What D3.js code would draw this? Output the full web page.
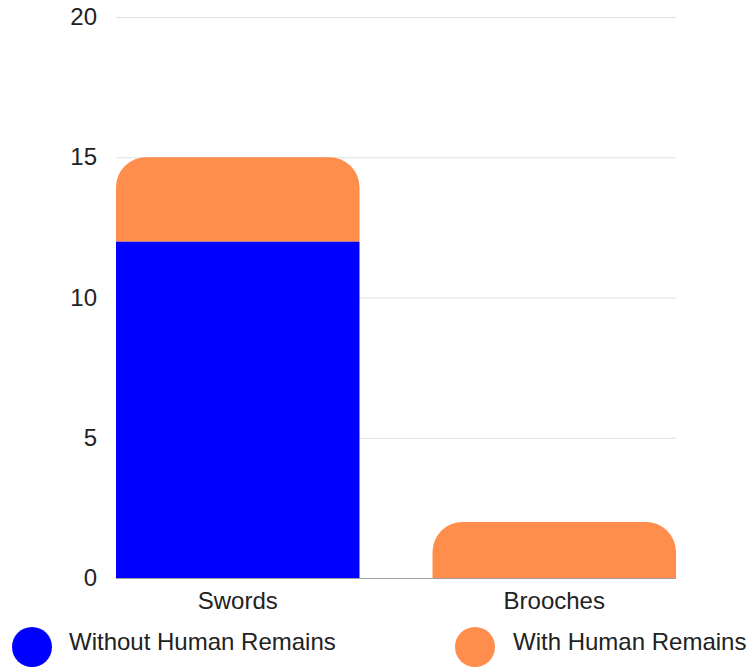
<!DOCTYPE html>
<html>
<head>
<meta charset="utf-8">
<script src="https://cdn.jsdelivr.net/npm/d3@7"></script>
<style>
  html, body { margin: 0; padding: 0; background: #fff; }
  svg { display: block; font-family: "Liberation Sans", Arial, sans-serif; }
</style>
</head>
<body>
<svg id="chart" width="755" height="672"></svg>
<script>
// Find counts per category, split by presence of human remains
const categories = ["Swords", "Brooches"];
const withoutRemains = [12, 0];
const withRemains = [3, 2];
const seriesNames = ["Without Human Remains", "With Human Remains"];
const seriesColors = ["#0000ff", "#ff8e4c"];
const yTicks = [0, 5, 10, 15, 20];

const svg = d3.select("#chart");
const plotLeft = 116, plotRight = 676, plotTop = 17, plotBottom = 578;

const rows = categories.map((c, i) => ({
  category: c,
  [seriesNames[0]]: withoutRemains[i],
  [seriesNames[1]]: withRemains[i]
}));

const x = d3.scaleBand().domain(categories).range([plotLeft, plotRight])
  .paddingInner(0.2307).paddingOuter(0);
const y = d3.scaleLinear().domain([0, 20]).range([plotBottom, plotTop]);
const color = d3.scaleOrdinal().domain(seriesNames).range(seriesColors);

// Gridlines
const grid = svg.append("g").attr("transform", `translate(${plotLeft},0)`)
  .call(d3.axisLeft(y).tickValues(yTicks.slice(1)).tickSize(-(plotRight - plotLeft)).tickFormat(""));
grid.select(".domain").remove();
grid.selectAll("line").attr("stroke", "#e0e0e0").attr("stroke-width", 1);

// Value axis labels
const yAxis = svg.append("g").attr("transform", `translate(${plotLeft},0)`)
  .call(d3.axisLeft(y).tickValues(yTicks).tickSize(0).tickPadding(19));
yAxis.select(".domain").remove();
yAxis.selectAll("text").attr("font-size", 24).attr("fill", "#222")
  .attr("font-family", "'Liberation Sans', Arial, sans-serif");

// Stacked bars; the top segment of each stack gets rounded upper corners
const stacked = d3.stack().keys(seriesNames)(rows);

function topRounded(x0, y0, w, h, r) {
  r = Math.min(r, w / 2, h);
  return `M${x0},${y0 + h}V${y0 + r}A${r},${r} 0 0 1 ${x0 + r},${y0}` +
    `H${x0 + w - r}A${r},${r} 0 0 1 ${x0 + w},${y0 + r}V${y0 + h}Z`;
}

stacked.forEach((layer, li) => {
  const g = svg.append("g").attr("fill", color(layer.key));
  layer.forEach((d, ci) => {
    const v = d[1] - d[0];
    if (v <= 0) return;
    const isTop = stacked.slice(li + 1).every(l => l[ci][1] - l[ci][0] <= 0);
    const x0 = x(d.data.category), w = x.bandwidth();
    const y0 = y(d[1]), h = y(d[0]) - y(d[1]);
    if (isTop) {
      g.append("path").attr("d", topRounded(x0, y0, w, h, 30));
    } else {
      g.append("rect").attr("x", x0).attr("y", y0).attr("width", w).attr("height", h);
    }
  });
});

// Baseline
svg.append("line").attr("x1", plotLeft).attr("x2", plotRight)
  .attr("y1", y(0) + 0.5).attr("y2", y(0) + 0.5)
  .attr("stroke", "#9e9e9e").attr("stroke-width", 1);

// Category axis
const xAxis = svg.append("g").attr("transform", `translate(0,${plotBottom})`)
  .call(d3.axisBottom(x).tickSize(0).tickPadding(14));
xAxis.select(".domain").remove();
xAxis.selectAll("text").attr("font-size", 24).attr("fill", "#222")
  .attr("font-family", "'Liberation Sans', Arial, sans-serif");

// Legend
const legendPos = [{ cx: 32, tx: 69 }, { cx: 475, tx: 513 }];
const legend = svg.append("g");
seriesNames.forEach((name, i) => {
  legend.append("circle").attr("cx", legendPos[i].cx).attr("cy", 647).attr("r", 20)
    .attr("fill", color(name));
  legend.append("text").attr("x", legendPos[i].tx).attr("y", 650)
    .attr("font-size", 24).attr("fill", "#222").text(name);
});
</script>
</body>
</html>
